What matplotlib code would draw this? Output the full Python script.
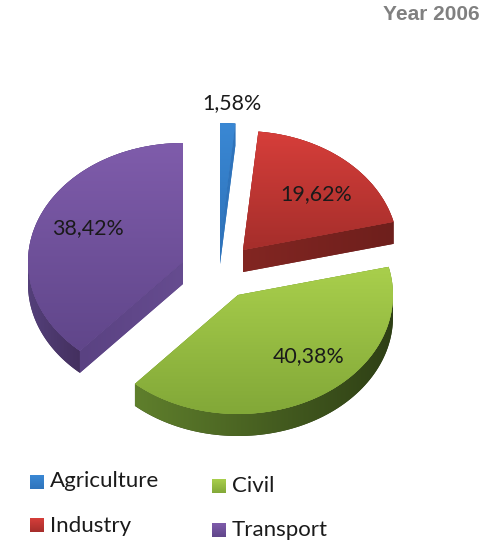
import numpy as np
import matplotlib
matplotlib.use("Agg")
import matplotlib.pyplot as plt
from matplotlib.colors import LinearSegmentedColormap
from matplotlib.patches import Polygon
from matplotlib.transforms import Affine2D

# Energy consumption shares per sector, year 2006
sectors = ["Agriculture", "Industry", "Civil", "Transport"]
shares = [1.58, 19.62, 40.38, 38.42]
year_label = "Year 2006"

W, H = 504, 542
RX, RY = 155, 119      # ellipse radii of the tilted pie
DEPTH = 22             # extrusion height

# Apex of each exploded slice, in canvas units (y measured from the top)
apex = {"Agriculture": (220, 242), "Industry": (243, 250),
        "Civil": (238, 295), "Transport": (183, 262)}
label_pos = {"Agriculture": (232, 103), "Industry": (316, 194),
             "Civil": (309, 356), "Transport": (88, 228)}
top_colors = {"Agriculture": ("#3a88d4", "#2f74bc"), "Industry": ("#d63e3a", "#a52e2b"),
              "Civil": ("#a9cf4c", "#82a838"), "Transport": ("#7f5cab", "#60468a")}
rim_colors = {"Agriculture": ("#2f74bc", "#2f74bc"), "Industry": ("#7c2521", "#7c2521"),
              "Civil": ("#5f7f2c", "#2e3f15"), "Transport": ("#54407a", "#44305f")}
cut_colors = {"Agriculture": ("#2f74bc", "#2f74bc"), "Industry": ("#822622", "#6e1f1c"),
              "Civil": ("#5f7f2c", "#5f7f2c"), "Transport": ("#5a4282", "#664c90")}
legend_pos = {"Agriculture": (30, 475), "Industry": (30, 518),
              "Civil": (212, 479), "Transport": (212, 523)}
legend_text_x = {"Agriculture": 50, "Industry": 50, "Civil": 232, "Transport": 232}
legend_text_y = {"Agriculture": 481, "Industry": 526, "Civil": 486, "Transport": 530}

plt.rcParams["font.family"] = ["Lato", "DejaVu Sans"]
fig = plt.figure(figsize=(W / 100, H / 100), dpi=100)
ax = fig.add_axes([0, 0, 1, 1])


def gradient_fill(poly, colors, vertical=True, zorder=2):
    """Paint a polygon with a two-colour linear gradient."""
    ax.add_patch(Polygon(poly, closed=True, fc=colors[1], ec="none", zorder=zorder))
    clip = Polygon(poly, closed=True, transform=ax.transData)
    x0, y0 = poly.min(axis=0)
    x1, y1 = poly.max(axis=0)
    ramp = np.linspace(0, 1, 128)
    ramp = ramp[:, None] if vertical else ramp[None, :]
    cmap = LinearSegmentedColormap.from_list("g", colors)
    img = ax.imshow(ramp, cmap=cmap, extent=(x0, x1, y0, y1),
                    origin="upper" if vertical else "lower", aspect="auto",
                    interpolation="bilinear", zorder=zorder + 0.1, vmin=0, vmax=1)
    img.set_clip_path(clip)


# The pie call works out the sweep of every slice from the shares
wedges, _ = ax.pie(shares, startangle=90, counterclock=False, radius=1)
ax.set_aspect("auto")

for name, value, wedge in zip(sectors, shares, wedges):
    t1, t2 = wedge.theta1, wedge.theta2
    cx, cy = apex[name][0], H - apex[name][1]
    wedge.set_transform(Affine2D().scale(RX, RY).translate(cx, cy) + ax.transData)
    wedge.set_facecolor(top_colors[name][1])
    wedge.set_edgecolor("none")
    wedge.set_zorder(4)

    def pt(deg):
        return np.array([cx + RX * np.cos(np.radians(deg)), cy + RY * np.sin(np.radians(deg))])

    # Outer rim, only where the arc faces the viewer
    lo, hi = max(t1, -180), min(t2, 0)
    if hi > lo:
        arc = np.array([pt(a) for a in np.linspace(lo, hi, 80)])
        gradient_fill(np.vstack([arc, arc[::-1] - [0, DEPTH]]), rim_colors[name], vertical=False, zorder=2)

    # Flat cut faces exposed by the explosion
    for theta, visible in ((t2, np.cos(np.radians(t2)) < -1e-6), (t1, np.cos(np.radians(t1)) > 1e-6)):
        if visible:
            a, b = np.array([cx, cy]), pt(theta)
            face = np.array([a, b, b - [0, DEPTH], a - [0, DEPTH]])
            gradient_fill(face, cut_colors[name], vertical=False, zorder=3)

    # Top surface
    top = np.vstack([[cx, cy], [pt(a) for a in np.linspace(t1, t2, 160)]])
    gradient_fill(top, top_colors[name], vertical=True, zorder=4)

    lx, ly = label_pos[name]
    ax.text(lx, H - ly, f"{value:.2f}".replace(".", ",") + "%", ha="center", va="center",
            fontsize=15.4, color="#1a1a1a", zorder=6)

    # Legend entry
    sx, sy = legend_pos[name]
    swatch = np.array([[sx, H - sy], [sx + 14, H - sy], [sx + 14, H - sy - 14], [sx, H - sy - 14]], float)
    gradient_fill(swatch, top_colors[name], vertical=True, zorder=5)
    ax.text(legend_text_x[name], H - legend_text_y[name], name, ha="left", va="center",
            fontsize=16, color="#1a1a1a", zorder=6)

ax.text(480, H - 15, year_label, ha="right", va="center", fontsize=15, fontweight="bold",
        family="Liberation Sans", color="#808080")

ax.set_xlim(0, W)
ax.set_ylim(0, H)
ax.set_axis_off()
fig.savefig("out.png", dpi=100, facecolor="white")
